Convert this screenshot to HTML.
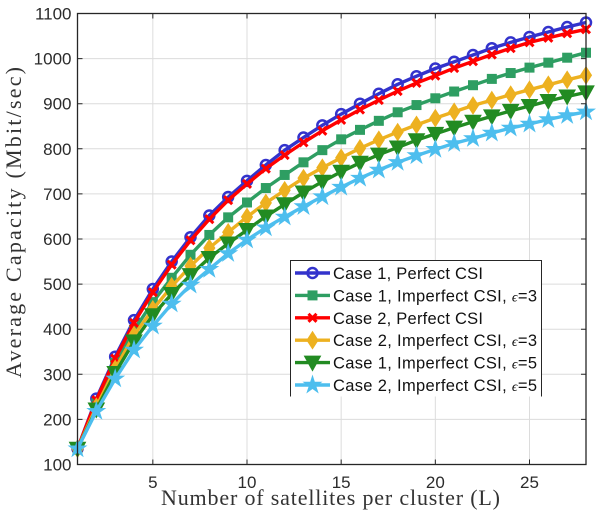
<!DOCTYPE html>
<html>
<head>
<meta charset="utf-8">
<title>Average Capacity vs Satellites per Cluster</title>
<style>
html,body{margin:0;padding:0;background:#fff;width:608px;height:514px;overflow:hidden}
svg{display:block;filter:blur(0.3px)}
.tick{font:17px "Liberation Sans",sans-serif;fill:#2b2b2b}
.axt{font:22px "Liberation Serif",serif;fill:#333}
.leg{font:16.5px "Liberation Sans",sans-serif;fill:#111}
</style>
</head>
<body>
<svg id="chart" width="608" height="514" viewBox="0 0 608 514" xmlns="http://www.w3.org/2000/svg"></svg>
<script>
const categories = [1,2,3,4,5,6,7,8,9,10,11,12,13,14,15,16,17,18,19,20,21,22,23,24,25,26,27,28];
const xTickValues = [5,10,15,20,25];
const yTickValues = [100,200,300,400,500,600,700,800,900,1000,1100];
const case1Perfect = [135,246,339,420,489,550,604,652,693,729,764,797,825,852,877,900,922,943,961,978,993,1008,1023,1036,1048,1059,1070,1080];
const case1Imperfect3 = [135,236,325,398,460,514,565,609,648,681,713,742,770,797,821,842,862,881,897,912,927,941,955,968,980,991,1002,1013];
const case2Perfect = [135,243,335,414,482,543,597,644,686,722,756,786,814,840,864,887,908,928,946,962,979,994,1009,1023,1036,1046,1056,1065];
const case2Imperfect3 = [135,228,312,387,444,495,540,580,615,649,680,708,735,758,780,801,820,837,853,868,882,896,908,920,931,942,953,963];
const case1Imperfect5 = [135,222,303,373,431,478,520,558,590,620,650,677,703,727,749,769,787,803,819,833,847,860,872,884,895,906,916,925];
const case2Imperfect5 = [135,218,290,354,407,456,498,533,568,598,625,649,672,694,715,735,753,770,785,799,812,823,835,846,855,865,874,882];
const seriesLabels = ["Case 1, Perfect CSI","Case 1, Imperfect CSI, ","Case 2, Perfect CSI","Case 2, Imperfect CSI, ","Case 1, Imperfect CSI, ","Case 2, Imperfect CSI, "];
const seriesEpsilon = ["","=3","","=3","=5","=5"];
const seriesColors = ["#3333cc","#2e9e62","#ff0000","#edb120","#228b22","#4dbeee"];
const seriesMarkers = ["circle","square","cross","diamond","triangle","star"];
const seriesKeys = ["case-1-perfect","case-1-imperfect-3","case-2-perfect","case-2-imperfect-3","case-1-imperfect-5","case-2-imperfect-5"];
const seriesValues = [case1Perfect,case1Imperfect3,case2Perfect,case2Imperfect3,case1Imperfect5,case2Imperfect5];

const NS = "http://www.w3.org/2000/svg";
const svg = document.getElementById("chart");
const L = 77.5, R = 586, T = 13.5, B = 464.5;
const xMin = 1, xMax = 28, yMin = 100, yMax = 1100;
function xScale(v){ return L + (v - xMin) / (xMax - xMin) * (R - L); }
function yScale(v){ return B - (v - yMin) / (yMax - yMin) * (B - T); }
function make(tag, attrs, parent){
  const el = document.createElementNS(NS, tag);
  for (const k in attrs) el.setAttribute(k, attrs[k]);
  (parent || svg).appendChild(el);
  return el;
}
function group(name){
  const g = make("g", {});
  
  
  return g;
}
function starPoints(cx, cy, r){
  const pts = [];
  for (let i = 0; i < 10; i++){
    const rad = i % 2 ? r * 0.38 : r;
    const a = -Math.PI / 2 + i * Math.PI / 5;
    pts.push((cx + rad * Math.cos(a)).toFixed(1) + "," + (cy + rad * Math.sin(a)).toFixed(1));
  }
  return pts.join(" ");
}
function drawMarker(kind, x, y, color, parent){
  let m;
  if (kind === "circle") m = make("circle", {cx:x, cy:y, r:5, fill:"none", stroke:color, "stroke-width":2.5}, parent);
  else if (kind === "square") m = make("rect", {x:x-5, y:y-5, width:10, height:10, fill:color}, parent);
  else if (kind === "cross") m = make("path", {d:`M${x-4} ${y-4}L${x+4} ${y+4}M${x-4} ${y+4}L${x+4} ${y-4}`, fill:"none", stroke:color, "stroke-width":3}, parent);
  else if (kind === "diamond") m = make("polygon", {points:`${x},${y-8.5} ${x+5.5},${y} ${x},${y+8.5} ${x-5.5},${y}`, fill:color, stroke:color, "stroke-width":1}, parent);
  else if (kind === "triangle") m = make("polygon", {points:`${x-8},${y-6.5} ${x+8},${y-6.5} ${x},${y+8}`, fill:color, stroke:color, "stroke-width":1}, parent);
  else m = make("polygon", {points:starPoints(x, y, 10.5), fill:color}, parent);
  
  
  return m;
}

/* grid */
const grid = group("grid-lines");
xTickValues.forEach(v => {
  const ln = make("line", {x1:xScale(v), x2:xScale(v), y1:T, y2:B, stroke:"#dcdcdc", "stroke-width":1}, grid);
  
  
});
yTickValues.forEach(v => {
  const ln = make("line", {x1:L, x2:R, y1:yScale(v), y2:yScale(v), stroke:"#dcdcdc", "stroke-width":1}, grid);
  
  
});

/* series */
seriesValues.forEach((vals, i) => {
  const g = group("series-" + seriesKeys[i]);
  const pts = vals.map((v, j) => xScale(categories[j]).toFixed(1) + "," + yScale(v).toFixed(1)).join(" ");
  const line = make("polyline", {points:pts, fill:"none", stroke:seriesColors[i], "stroke-width":3.4, "stroke-linejoin":"round"}, g);
  
  
  vals.forEach((v, j) => drawMarker(seriesMarkers[i], xScale(categories[j]), yScale(v), seriesColors[i], g));
});

/* axes */
const axes = group("axes");
const box = make("rect", {x:L, y:T, width:R-L, height:B-T, fill:"none", stroke:"#262626", "stroke-width":1.3}, axes);


xTickValues.forEach(v => {
  const t = make("path", {d:`M${xScale(v)} ${B}V${B-5}M${xScale(v)} ${T}V${T+5}`, stroke:"#262626", "stroke-width":1}, axes);
  
  
  const lb = make("text", {x:xScale(v), y:488, "text-anchor":"middle", class:"tick"}, axes);
  lb.textContent = v;
  
  
});
yTickValues.forEach(v => {
  const t = make("path", {d:`M${L} ${yScale(v)}H${L+5}M${R} ${yScale(v)}H${R-5}`, stroke:"#262626", "stroke-width":1}, axes);
  
  
  const lb = make("text", {x:71.5, y:yScale(v)+6, "text-anchor":"end", class:"tick"}, axes);
  lb.textContent = v;
  
  
});
const xTitle = make("text", {x:161, y:505, textLength:339, lengthAdjust:"spacing", class:"axt"}, axes);
xTitle.textContent = "Number of satellites per cluster (L)";


const yTitle = make("text", {transform:"translate(21 378) rotate(-90)", x:0, y:0, textLength:311, lengthAdjust:"spacing", class:"axt"}, axes);
yTitle.textContent = "Average Capacity (Mbit/sec)";



/* legend */
const legend = group("legend");
const legendBg = make("rect", {x:290.5, y:260.5, width:251, height:136, fill:"#fff"}, legend);


const legendEdge = make("path", {d:"M290.5 396.5V260.5H541.5V396.5", fill:"none", stroke:"#262626", "stroke-width":1}, legend);


seriesLabels.forEach((label, i) => {
  const y = 273 + i * 22.4;
  const row = make("g", {}, legend);
  
  
  const sw = make("line", {x1:295, x2:330, y1:y, y2:y, stroke:seriesColors[i], "stroke-width":3.4}, row);
  
  
  drawMarker(seriesMarkers[i], 312.5, y, seriesColors[i], row);
  const tx = make("text", {x:333, y:y+6, class:"leg"}, row);
  
  
  const a = make("tspan", {}, tx);
  a.textContent = label;
  if (seriesEpsilon[i]) {
    const e = make("tspan", {"font-family":"Liberation Serif, serif", "font-style":"italic", "font-size":"14"}, tx);
    e.textContent = "\u03F5";
    const b = make("tspan", {}, tx);
    b.textContent = seriesEpsilon[i];
    tx.setAttribute('textLength', '204');
    tx.setAttribute('lengthAdjust', 'spacing');
  } else {
    tx.setAttribute('textLength', '150');
    tx.setAttribute('lengthAdjust', 'spacing');
  }
});
</script>
</body>
</html>
